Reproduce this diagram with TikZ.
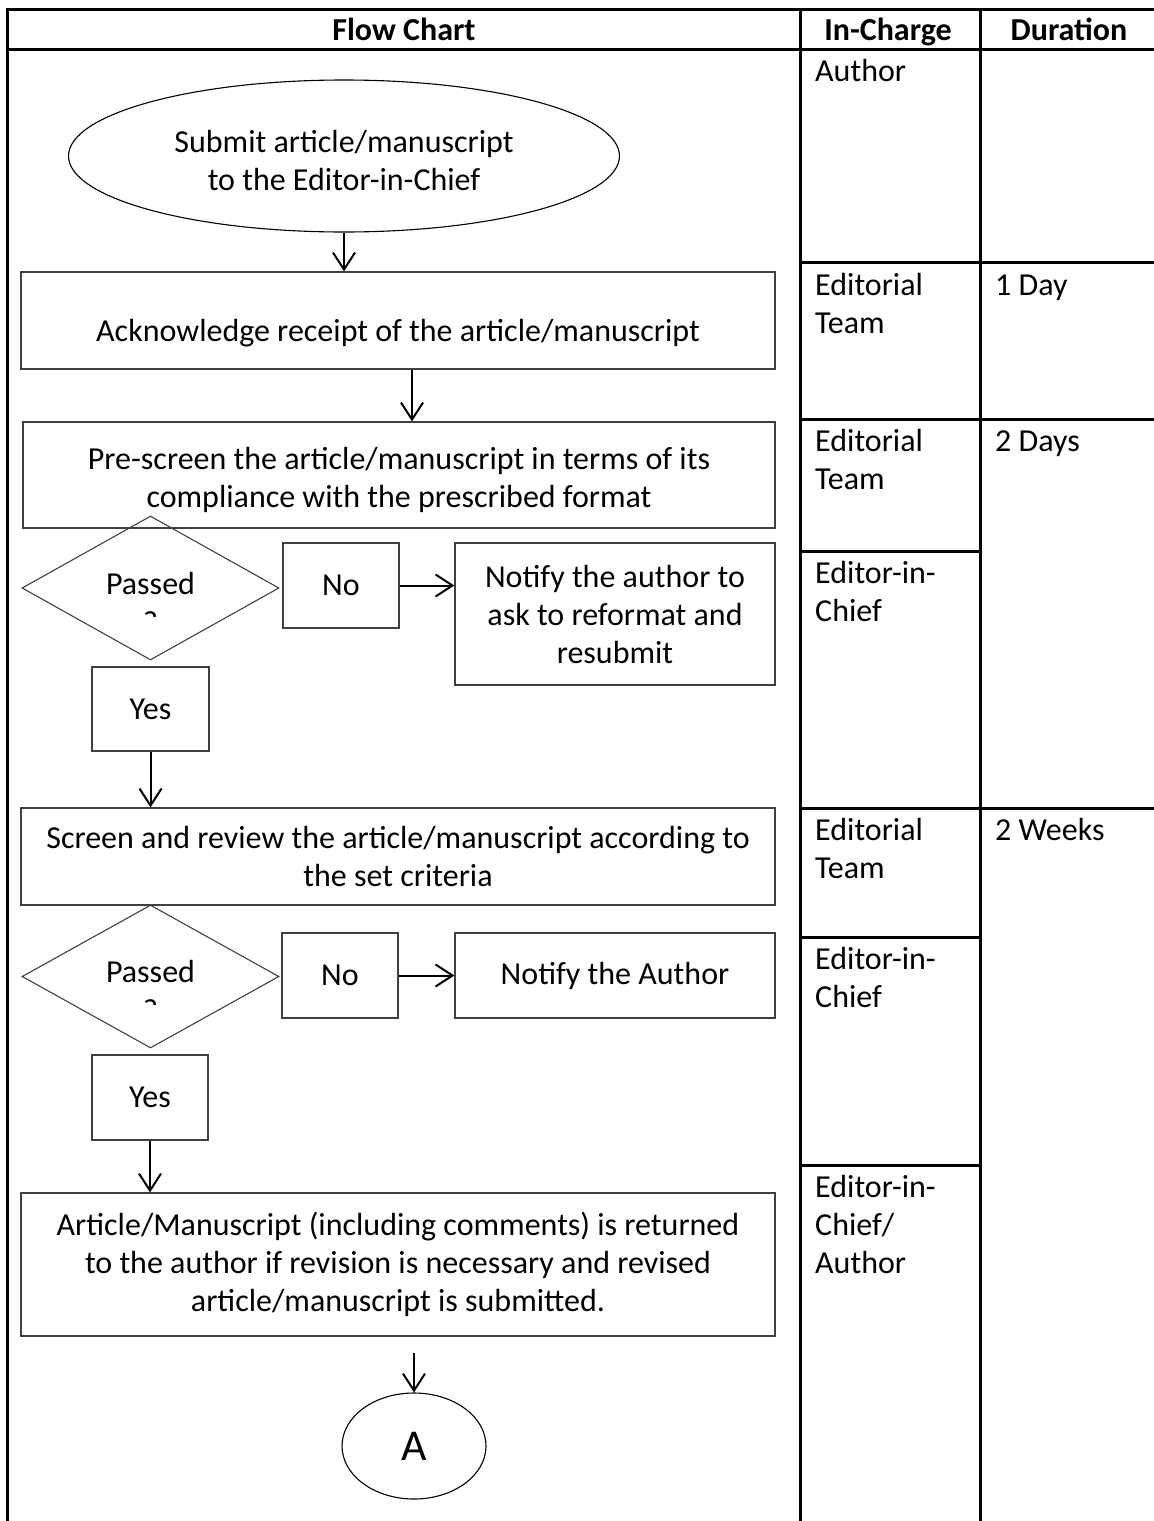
\documentclass[tikz,border=0pt]{standalone}
\usepackage{fontspec}
\setmainfont{Carlito}
\usetikzlibrary{arrows.meta,shapes.geometric}
\newcommand{\flowfont}{\fontsize{32}{38}\selectfont}

\tikzset{
	gridline/.style={line width=3pt, line cap=rect},
	box/.style={draw=black!75, line width=1.2pt, inner sep=0pt, align=center, font=\flowfont},
	term/.style={ellipse, draw=black, line width=1.1pt, inner sep=0pt, align=center, font=\flowfont},
	decide/.style={diamond, draw=black!75, line width=1.1pt, inner sep=0pt, font=\flowfont},
	cell/.style={anchor=base west, align=left, inner sep=0pt, font=\flowfont},
	head/.style={anchor=base, inner sep=0pt, font=\flowfont\bfseries},
	arr/.style={line width=2pt, -{Straight Barb[length=17pt,width=22pt]}}
}

\begin{document}
\begin{tikzpicture}[x=1pt, y=-1pt]
			%%%%% START %%%%%
			\useasboundingbox (0,0) rectangle (1154,1521);
			
			% table
			\draw[gridline] (7,9) -- (1154,9);
			\draw[gridline] (7,49) -- (1154,49);
			\draw[gridline] (7,9) -- (7,1521);
			\draw[gridline] (800,9) -- (800,1521);
			\draw[gridline] (980,9) -- (980,1521);
			\draw[gridline] (800,262) -- (1154,262);
			\draw[gridline] (800,419) -- (1154,419);
			\draw[gridline] (800,551) -- (980,551);
			\draw[gridline] (800,808) -- (1154,808);
			\draw[gridline] (800,937) -- (980,937);
			\draw[gridline] (800,1165) -- (980,1165);
			
			\node[head] (hflow) at (404,40) {Flow Chart};
			\node[head] (hcharge) at (888,40) {In-Charge};
			\node[head] (hdur) at (1069,40) {Duration};
			
			% base anchor sits on the last line
			\node[cell] (c1) at (815,81) {Author};
			\node[cell] (c2) at (815,333) {Editorial\\Team};
			\node[cell] (d2) at (995,295) {1 Day};
			\node[cell] (c3) at (815,489) {Editorial\\Team};
			\node[cell] (d3) at (995,451) {2 Days};
			\node[cell] (c4) at (815,621) {Editor-in-\\Chief};
			\node[cell] (c5) at (815,878) {Editorial\\Team};
			\node[cell] (d5) at (995,840) {2 Weeks};
			\node[cell] (c6) at (815,1007) {Editor-in-\\Chief};
			\node[cell] (c7) at (815,1273) {Editor-in-\\Chief/\\Author};
			
			% flow chart
			\node[term, minimum width=551, minimum height=152, text height=68pt, text depth=0pt] (submit) at (344,156) {Submit article/manuscript\\to the Editor-in-Chief};
			\node[box, minimum width=754, minimum height=97, text height=41pt, text depth=0pt] (ack) at (398,320.5) {Acknowledge receipt of the article/manuscript};
			\node[box, minimum width=752, minimum height=106, text height=64pt, text depth=0pt] (prescreen) at (399,475) {Pre-screen the article/manuscript in terms of its\\compliance with the prescribed format};
			
			\node[decide, minimum width=257, minimum height=144] (pass1) at (150.5,588) {};
			\node[font=\flowfont, inner sep=0pt] (pass1txt) at ([yshift=5pt]pass1.center) {Passed};
			\begin{scope}
				\clip ([xshift=-30pt,yshift=-20pt]pass1.center) rectangle ([xshift=30pt,yshift=-28pt]pass1.center);
				\node[font=\flowfont, inner sep=0pt] (q1) at ([yshift=-34.5pt]pass1.center) {?};
			\end{scope}
			\node[box, minimum width=116, minimum height=85] (no1) at (341,585.5) {No};
			\node[box, minimum width=320, minimum height=142] (notify1) at (615,614) {Notify the author to\\ask to reformat and\\resubmit};
			\node[box, minimum width=117, minimum height=84] (yes1) at (150.5,709) {Yes};
			
			\node[box, minimum width=754, minimum height=97] (screen) at (398,856.5) {Screen and review the article/manuscript according to\\the set criteria};
			
			\node[decide, minimum width=257, minimum height=143] (pass2) at (150.5,976.5) {};
			\node[font=\flowfont, inner sep=0pt] (pass2txt) at ([yshift=5pt]pass2.center) {Passed};
			\begin{scope}
				\clip ([xshift=-30pt,yshift=-20pt]pass2.center) rectangle ([xshift=30pt,yshift=-28pt]pass2.center);
				\node[font=\flowfont, inner sep=0pt] (q2) at ([yshift=-34.5pt]pass2.center) {?};
			\end{scope}
			\node[box, minimum width=116, minimum height=85] (no2) at (340,975.5) {No};
			\node[box, minimum width=320, minimum height=85] (notify2) at (615,975.5) {Notify the Author};
			\node[box, minimum width=116, minimum height=85] (yes2) at (150,1097.5) {Yes};
			
			\node[box, minimum width=754, minimum height=143] (ret) at (398,1264.5) {Article/Manuscript (including comments) is returned\\to the author if revision is necessary and revised\\article/manuscript is submitted.};
			\node[term, minimum width=144, minimum height=106, font=\fontsize{44}{50}\selectfont] (conn) at (414,1446) {A};
			
			% arrows
			\draw[arr] (submit.south) -- (submit.south |- ack.north);
			\draw[arr] ([xshift=14pt]ack.south) -- ([xshift=14pt]ack.south |- prescreen.north);
			\draw[arr] (no1.east) -- (no1.east -| notify1.west);
			\draw[arr] (yes1.south) -- (yes1.south |- screen.north);
			\draw[arr] (no2.east) -- (no2.east -| notify2.west);
			\draw[arr] (yes2.south) -- (yes2.south |- ret.north);
			\draw[arr] ([yshift=-16pt]ret.south -| conn.north) -- (conn.north);
			
			%%%%% END %%%%%
\end{tikzpicture}
\end{document}
